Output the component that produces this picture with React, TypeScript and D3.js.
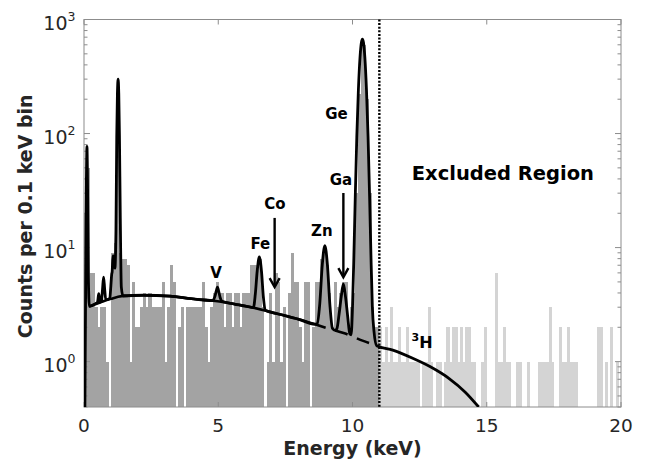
import React from 'react';
import * as d3 from 'd3';

// counts per 0.1 keV bin, 0 - 20 keV (200 bins)
const binWidth = 0.1;
const counts = [
  20, 50, 6, 6, 3, 2, 3, 3, 1, 0,
  9, 11, 120, 9, 8, 8, 7, 1, 5, 2,
  2, 3, 4, 3, 4, 3, 3, 3, 3, 5,
  1, 3, 7, 5, 0, 2, 3, 0, 3, 3,
  3, 3, 3, 3, 5, 2, 1, 3, 4, 5,
  4, 4, 2, 4, 4, 2, 4, 4, 2, 4,
  4, 4, 7, 7, 7, 8, 3, 0, 1, 4,
  1, 6, 5, 1, 3, 0, 4, 9, 5, 5,
  2, 1, 5, 5, 0, 2, 5, 5, 8, 10,
  7, 4, 2, 5, 3, 4, 5, 5, 2, 3,
  4, 30, 220, 640, 600, 200, 30, 3, 2, 2,
  2, 1, 2, 1, 3, 1, 1, 2, 1, 1,
  2, 1, 1, 1, 1, 0, 1, 1, 3, 1,
  0, 1, 1, 0, 1, 2, 1, 2, 2, 1,
  2, 1, 2, 2, 1, 1, 0, 0, 1, 2,
  0, 0, 0, 6, 1, 1, 2, 1, 1, 0,
  0, 1, 1, 0, 0, 1, 0, 0, 0, 1,
  1, 1, 1, 3, 1, 0, 0, 2, 1, 1,
  2, 1, 1, 1, 0, 0, 0, 0, 0, 0,
  0, 2, 2, 0, 1, 0, 2, 0, 1, 0,
];
const excludedFrom = 11;

// total fit model (energy keV, counts per bin)
const modelEnergy = [
  0.03, 0.06, 0.09, 0.11, 0.13, 0.16, 0.2,
  0.3, 0.45,
  0.5, 0.525, 0.55, 0.575, 0.6,
  0.65, 0.69, 0.73, 0.77, 0.81,
  0.9,
  0.96, 1.0, 1.03, 1.05, 1.08, 1.11, 1.15, 1.19, 1.22, 1.245, 1.27, 1.295, 1.32, 1.35, 1.39, 1.45,
  2.2, 3.2, 4.0, 4.7,
  4.8, 4.87, 4.92, 4.97, 5.02, 5.07, 5.14,
  5.6, 6.25,
  6.31, 6.38, 6.45, 6.53, 6.61, 6.68, 6.75,
  7.2, 8.0, 8.6,
  8.69, 8.78, 8.875, 8.97, 9.065, 9.16, 9.255,
  9.35,
  9.42, 9.5, 9.58, 9.66, 9.74, 9.82, 9.9,
  9.95, 10.0, 10.05, 10.1, 10.16, 10.22, 10.28, 10.33, 10.37, 10.41, 10.46, 10.52, 10.58, 10.64, 10.69, 10.74, 10.8, 10.9,
  11.5, 12.2, 12.9, 13.6, 14.2, 14.7,
];
const modelCounts = [
  0.3, 4, 40, 77, 40, 6, 3.05,
  3.1, 3.25,
  3.3, 3.6, 3.95, 3.6, 3.33,
  3.4, 4.3, 5.5, 4.3, 3.5,
  3.52,
  3.6, 4.6, 5.8, 6.2, 8.5, 7.8, 6.6, 14, 95, 225, 300, 225, 95, 20, 4.5, 3.78,
  3.82, 3.75, 3.56, 3.43,
  3.43, 3.7, 4.1, 4.5, 4.1, 3.65, 3.38,
  3.2, 2.99,
  2.98, 3.9, 6.2, 8.3, 6.2, 3.7, 2.82,
  2.63, 2.35, 2.13,
  2.15, 3.2, 7.1, 10.4, 7.1, 3.1, 1.95,
  1.88,
  1.95, 2.6, 3.7, 4.8, 3.7, 2.5, 1.75,
  1.72, 3.0, 8.1, 26, 93, 243, 466, 626, 673, 626, 466, 243, 93, 26, 8, 3.0, 1.85, 1.38,
  1.26, 1.08, 0.9, 0.71, 0.54, 0.4,
];

// background continuum
const bgEnergy = [0.19, 0.6, 1.0, 1.4, 2.2, 3.2, 4.0, 4.9, 5.6, 6.3, 7.2, 8.0, 9.0, 9.7, 10.4, 10.9];
const bgCounts = [3.05, 3.3, 3.55, 3.75, 3.82, 3.75, 3.56, 3.4, 3.2, 2.97, 2.63, 2.35, 1.98, 1.77, 1.52, 1.38];
const bgDashFrom = 9.0;

// annotations
const peakNames = ['V', 'Fe', 'Co', 'Zn', 'Ga', 'Ge'];
const peakLabelEnergy = [4.92, 6.57, 7.11, 8.86, 9.57, 9.4];
const peakLabelCounts = [6.05, 10.9, 24.4, 14, 39.2, 150];
const arrowEnergy = [7.1, 9.66];
const arrowFromCounts = [18.2, 30.1];
const arrowToCounts = [4.5, 5.5];

const xTicks = [0, 5, 10, 15, 20];
const yDecades = [0, 1, 2, 3];

const W = 648;
const H = 463;
const left = 84;
const right = 621;
const top = 19.5;
const bottom = 407;
const font = '"DejaVu Sans", sans-serif';
const textColor = '#262626';
const axisColor = '#8c8c8c';

export default function App() {
  const x = d3.scaleLinear().domain([0, 20]).range([left, right]);
  const y = d3.scaleLog().domain([0.4, 1000]).range([bottom, top]);

  const line = d3.line<[number, number]>()
    .x(d => x(d[0]))
    .y(d => y(d[1]))
    .curve(d3.curveMonotoneX);

  const model = modelEnergy.map((e, i) => [e, modelCounts[i]] as [number, number]);
  const bg = bgEnergy.map((e, i) => [e, bgCounts[i]] as [number, number]);
  const bgSolid = bg.filter(d => d[0] <= bgDashFrom);
  const bgDashed = bg.filter(d => d[0] >= bgDashFrom);

  const yTicks = y.ticks();
  const bw = x(binWidth) - x(0);

  return (
    <svg width={W} height={H} style={{ position: 'absolute', left: 0, top: 0, background: '#fff' }}
      fontFamily={font}>
      <defs>
        <clipPath id="plot">
          <rect x={left} y={top} width={right - left} height={bottom - top} />
        </clipPath>
      </defs>

      {/* histogram */}
      <g shapeRendering="crispEdges">
        {counts.map((c, i) => c > 0 ? (
          <rect key={i}
            x={x(i * binWidth)} width={bw + 0.4}
            y={y(c)} height={bottom - y(c)}
            fill={i * binWidth < excludedFrom - 1e-6 ? '#a3a3a3' : '#d4d4d4'} />
        ) : null)}
      </g>

      {/* axes box */}
      <g stroke={axisColor} strokeWidth={1} fill="none">
        <rect x={left} y={top} width={right - left} height={bottom - top} />
        {xTicks.map(t => (
          <g key={t}>
            <line x1={x(t)} x2={x(t)} y1={bottom} y2={bottom - 5} />
            <line x1={x(t)} x2={x(t)} y1={top} y2={top + 5} />
          </g>
        ))}
        {yTicks.map((t, i) => {
          const major = Math.abs(Math.log10(t) - Math.round(Math.log10(t))) < 1e-9;
          const len = major ? 6 : 3.5;
          return (
            <g key={i}>
              <line x1={left} x2={left + len} y1={y(t)} y2={y(t)} />
              <line x1={right} x2={right - len} y1={y(t)} y2={y(t)} />
            </g>
          );
        })}
      </g>

      {/* fit curves */}
      <g clipPath="url(#plot)" fill="none" stroke="#000" strokeLinejoin="round">
        <path d={line(bgSolid) || ''} strokeWidth={2.6} />
        <path d={line(bgDashed) || ''} strokeWidth={2.6} strokeDasharray="13,10" strokeDashoffset={13} />
        <path d={line(model) || ''} strokeWidth={2.8} />
      </g>

      {/* excluded region boundary */}
      <line x1={x(excludedFrom)} x2={x(excludedFrom)} y1={top} y2={bottom}
        stroke="#000" strokeWidth={2.4} strokeDasharray="2,1.6" />

      {/* peak labels and arrows */}
      <g fontWeight="bold" fontSize={15} fill="#000" textAnchor="middle">
        {peakNames.map((p, i) => (
          <text key={p} x={x(peakLabelEnergy[i])} y={y(peakLabelCounts[i])} dy="0.36em">{p}</text>
        ))}
      </g>
      <g stroke="#000" strokeWidth={2.4} fill="none">
        {arrowEnergy.map((e, i) => {
          const ax = x(e);
          const ty = y(arrowToCounts[i]);
          return (
            <g key={i}>
              <line x1={ax} x2={ax} y1={y(arrowFromCounts[i])} y2={ty - 1} />
              <path d={`M${ax - 5},${ty - 9} L${ax},${ty} L${ax + 5},${ty - 9}`} />
            </g>
          );
        })}
      </g>
      <text x={x(15.6)} y={y(45)} dy="0.36em" textAnchor="middle" fontWeight="bold" fontSize={19.5} fill="#000">
        Excluded Region
      </text>
      <text x={x(12.2)} y={y(1.32)} fontWeight="bold" fill="#000" fontSize={16}>
        <tspan fontSize={11} dy="-7">3</tspan>
        <tspan dy="7">H</tspan>
      </text>

      {/* tick labels */}
      <g fill={textColor} fontSize={18.5} textAnchor="middle">
        {xTicks.map(t => (
          <text key={t} x={x(t)} y={432}>{t}</text>
        ))}
      </g>
      <g fill={textColor} textAnchor="end">
        {yDecades.map(d => (
          <text key={d} x={left - 8.5} y={y(Math.pow(10, d)) + 10} fontSize={19}>
            10<tspan fontSize={12.5} dy="-9">{d}</tspan>
          </text>
        ))}
      </g>

      {/* axis titles */}
      <text x={(left + right) / 2} y={455} textAnchor="middle" fontWeight="bold" fontSize={19} fill={textColor}>
        Energy (keV)
      </text>
      <text transform={`translate(32,${(top + bottom) / 2 + 3}) rotate(-90)`} textAnchor="middle"
        fontWeight="bold" fontSize={19} fill={textColor}>
        Counts per 0.1 keV bin
      </text>
    </svg>
  );
}
